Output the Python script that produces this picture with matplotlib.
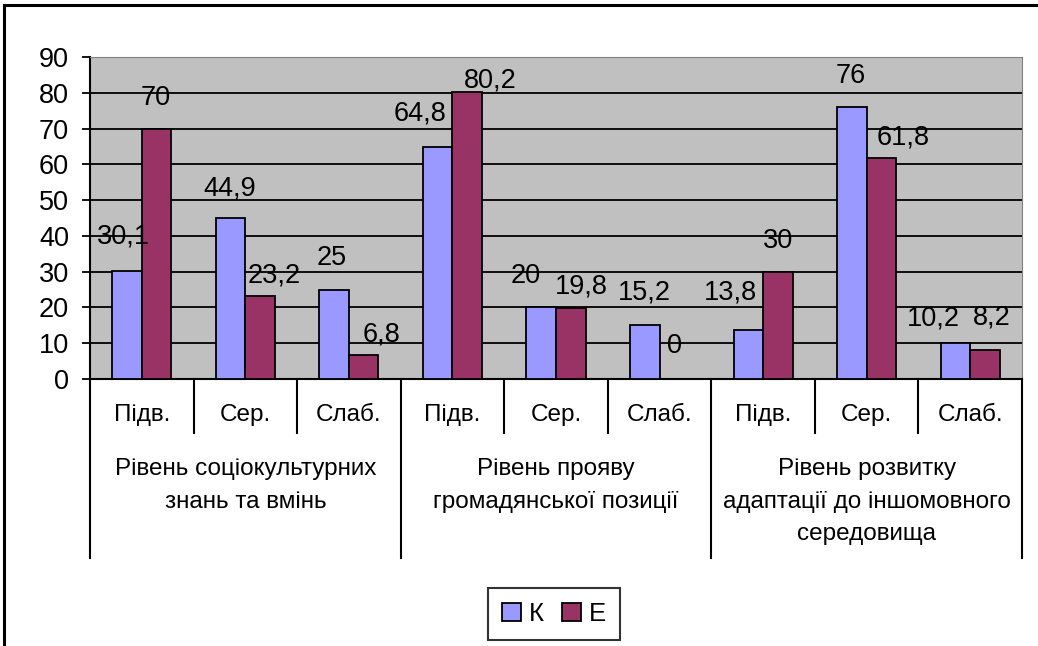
import matplotlib.pyplot as plt
from matplotlib.patches import Rectangle, Patch
from matplotlib.transforms import blended_transform_factory

plt.rcParams['font.family'] = ['Liberation Sans', 'DejaVu Sans']

# --- Data ---
groups = ["Рівень соціокультурних\nзнань та вмінь",
          "Рівень прояву\nгромадянської позиції",
          "Рівень розвитку\nадаптації до іншомовного\nсередовища"]
levels = ["Підв.", "Сер.", "Слаб."]
series_names = ["К", "Е"]
k_values = [30.1, 44.9, 25, 64.8, 20, 15.2, 13.8, 76, 10.2]
e_values = [70, 23.2, 6.8, 80.2, 19.8, 0, 30, 61.8, 8.2]
colors = ["#9999FF", "#993366"]

# label nudges (dx, gap above bar) in pixels, as placed in the original chart
k_nudge = [(-4, 28), (-1, 23), (-2, 25), (-18, 27), (-16, 24), (0, 25), (-18, 30), (-1, 24), (-22, 17)]
e_nudge = [(-1, 24), (14, 13), (18, 13), (23, 5), (11, 15), (0, 26), (0, 24), (22, 13), (7, 25)]

W, H = 1038, 646
px = 72 / 100  # pixels -> points
fig = plt.figure(figsize=(W / 100, H / 100), dpi=100)

# outer chart border
fig.patches.append(Rectangle((4 / W, -0.05), 1.1, 1 - 5 / H + 0.05, transform=fig.transFigure,
                             fill=False, edgecolor='black', linewidth=2.2))

left, right, top, bottom = 90, 1022, 57, 379
ax = fig.add_axes([left / W, 1 - bottom / H, (right - left) / W, (bottom - top) / H])
ax.set_facecolor('#C0C0C0')

n = len(k_values)
bw = 1 / 3.5
xs = [i + 0.5 for i in range(n)]
for vals, c, off, nudge in [(k_values, colors[0], -bw / 2, k_nudge), (e_values, colors[1], bw / 2, e_nudge)]:
    ax.bar([x + off for x in xs], vals, width=bw, color=c, edgecolor='black', linewidth=1.3, zorder=3)
    for x, v, (dx, gap) in zip(xs, vals, nudge):
        lab = ('%g' % v).replace('.', ',')
        ax.annotate(lab, (x + off, v), xytext=(dx * px, gap * px), textcoords='offset points',
                    ha='center', va='baseline', fontsize=19.5, zorder=4)

ax.set_xlim(0, n)
ax.set_ylim(0, 90)
ax.set_yticks(range(0, 91, 10))
ax.yaxis.grid(True, color='black', linewidth=1.3, zorder=1)
ax.set_axisbelow(True)
ax.tick_params(axis='y', length=6, width=1.3, pad=9, labelsize=19.5)
ax.set_xticks([])
for s in ['top', 'right']:
    ax.spines[s].set_color('#808080')
ax.spines['left'].set_linewidth(1.5)
ax.spines['bottom'].set_linewidth(1.5)

# multi-level category axis
tr = blended_transform_factory(ax.transData, ax.transAxes)
ph = bottom - top
sub_len = (433 - bottom) / ph
grp_len = (558 - bottom) / ph
for i in range(n + 1):
    depth = grp_len if i % len(levels) == 0 else sub_len
    ax.plot([i, i], [0, -depth], color='black', linewidth=1.5, transform=tr, clip_on=False)
for i, x in enumerate(xs):
    ax.text(x, -(415 - bottom) / ph, levels[i % len(levels)], transform=tr,
            ha='center', va='center', fontsize=17.5)
for g, name in enumerate(groups):
    ax.text(g * len(levels) + len(levels) / 2, -(458 - bottom) / ph, name, transform=tr,
            ha='center', va='top', fontsize=17.5, linespacing=1.62)

handles = [Patch(facecolor=c, edgecolor='black', linewidth=1.3) for c in colors]
leg = fig.legend(handles, series_names, loc='center', bbox_to_anchor=(554 / W, 1 - 614 / H),
                 ncol=2, fontsize=18.5, frameon=True, fancybox=False, handlelength=0.75,
                 handleheight=0.75, handletextpad=0.3, columnspacing=0.7, borderpad=0.55)
leg.get_frame().set_edgecolor('black')
leg.get_frame().set_linewidth(1.5)

fig.savefig('out.png', dpi=100)
